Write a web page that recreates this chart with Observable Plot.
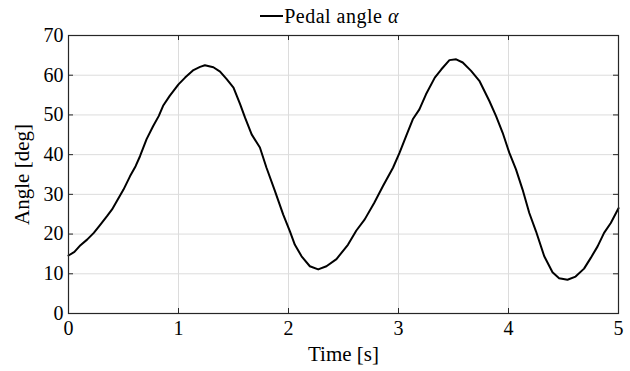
<!DOCTYPE html>
<html>
<head>
<meta charset="utf-8">
<script src="https://cdn.jsdelivr.net/npm/d3@7"></script>
<script src="https://cdn.jsdelivr.net/npm/@observablehq/plot@0.6"></script>
<style>
  html, body { margin: 0; padding: 0; background: #fff; }
  #wrap { position: relative; width: 630px; height: 371px; font-family: "Liberation Serif", "Times New Roman", serif; }
  #legend { position: absolute; left: 0; top: 5px; width: 630px; height: 22px; display: flex; align-items: center;
            justify-content: center; font-size: 20px; color: #000; padding-left: 29px; box-sizing: border-box;
            letter-spacing: 0.5px; }
  #legend svg { margin-right: 1px; }
  #legend i { font-style: italic; }
  #chart svg text { font-family: "Liberation Serif", "Times New Roman", serif; }
</style>
</head>
<body>
<div id="wrap">
  <div id="chart"></div>
  <div id="legend">
    <svg width="23" height="10"><line x1="0" y1="5" x2="23" y2="5" stroke="#000" stroke-width="2"></line></svg>
    <span>Pedal angle <i>α</i></span>
  </div>
</div>
<script>
// Pedal angle over time
const time = [0, 0.054, 0.109, 0.169, 0.23, 0.29, 0.35, 0.396, 0.44, 0.50, 0.56, 0.61, 0.65, 0.71, 0.77, 0.82, 0.86, 0.92,
  1.0, 1.06, 1.136, 1.196, 1.24, 1.317, 1.378, 1.438, 1.50, 1.56,
  1.605, 1.665, 1.74, 1.80, 1.877, 1.952, 2.013, 2.058, 2.119, 2.194, 2.27, 2.345, 2.436, 2.54, 2.617, 2.693, 2.78, 2.859, 2.95,
  3.01, 3.07, 3.13, 3.19, 3.25, 3.33, 3.39, 3.463, 3.524, 3.584, 3.66, 3.735, 3.826, 3.887, 3.947, 4.007, 4.068, 4.128, 4.189,
  4.25, 4.325, 4.4, 4.46, 4.536, 4.61, 4.687, 4.748, 4.81, 4.869, 4.93, 5.0];
const angle = [14.6, 15.5, 17.2, 18.6, 20.3, 22.4, 24.5, 26.2, 28.3, 31.2, 34.6, 37.1, 39.6, 43.9, 47.2, 49.7, 52.3, 54.8,
  57.7, 59.4, 61.3, 62.1, 62.5, 62.0, 60.9, 59.0, 56.9, 52.7,
  49.3, 45.1, 41.8, 36.7, 30.8, 24.9, 20.7, 17.3, 14.4, 11.9, 11.1, 11.9, 13.7, 17.3, 20.9, 23.7, 27.9, 32.1, 36.7,
  40.5, 44.7, 48.9, 51.4, 55.2, 59.4, 61.5, 63.8, 64.0, 63.2, 61.1, 58.6, 53.5, 49.7, 45.5, 40.5, 36.3, 31.2, 25.3,
  20.7, 14.4, 10.4, 8.9, 8.5, 9.3, 11.3, 14.0, 16.9, 20.3, 22.8, 26.5];

const xTicks = [0, 1, 2, 3, 4, 5];
const yTicks = [0, 10, 20, 30, 40, 50, 60, 70];

const rows = time.map((t, i) => ({t, a: angle[i]}));

const W = 630, H = 371;
const mt = 35, mb = 58, ml = 68, mr = 12;
const plotH = H - mt - mb, plotW = W - ml - mr;
const tick = 5;
const axisColor = "#262626";

const chart = Plot.plot({
  width: W,
  height: H,
  marginTop: mt,
  marginBottom: mb,
  marginLeft: ml,
  marginRight: mr,
  style: {fontFamily: "'Liberation Serif', serif", fontSize: "20px", color: "#000", background: "#fff"},
  x: {domain: [0, 5], label: null},
  y: {domain: [0, 70], label: null},
  marks: [
    Plot.gridX(xTicks, {stroke: "#dcdcdc", strokeOpacity: 1}),
    Plot.gridY(yTicks, {stroke: "#dcdcdc", strokeOpacity: 1}),
    // inward ticks on all four sides
    Plot.tickX(xTicks, {x: d => d, insetTop: plotH - tick, stroke: axisColor}),
    Plot.tickX(xTicks, {x: d => d, insetBottom: plotH - tick, stroke: axisColor}),
    Plot.tickY(yTicks, {y: d => d, insetRight: plotW - tick, stroke: axisColor}),
    Plot.tickY(yTicks, {y: d => d, insetLeft: plotW - tick, stroke: axisColor}),
    Plot.axisX(xTicks, {tickSize: 0, tickPadding: 7, fontSize: 20, label: null}),
    Plot.axisX({tickSize: 0, ticks: [], label: "Time [s]", labelAnchor: "center", labelArrow: "none", labelOffset: 47, fontSize: 21}),
    Plot.axisY(yTicks, {tickSize: 0, tickPadding: 5, fontSize: 20, label: null}),
    Plot.axisY({tickSize: 0, ticks: [], label: "Angle [deg]", labelAnchor: "center", labelArrow: "none", labelOffset: 54, fontSize: 21}),
    Plot.line(rows, {x: "t", y: "a", stroke: "#000", strokeWidth: 2, strokeLinejoin: "round"}),
    Plot.frame({stroke: axisColor, strokeWidth: 1.2})
  ]
});
document.getElementById("chart").appendChild(chart);
</script>
</body>
</html>
